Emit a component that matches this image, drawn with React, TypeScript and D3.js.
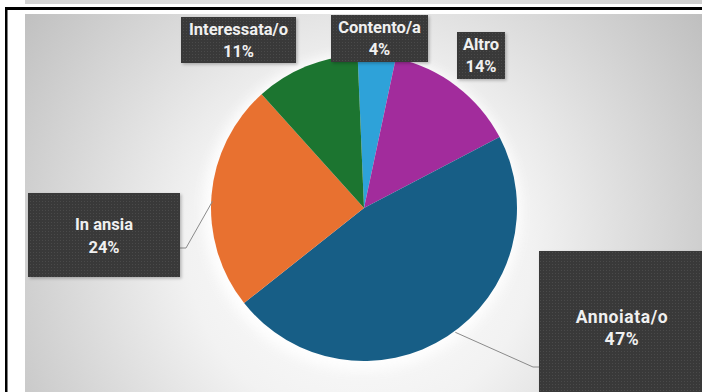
import React from "react";
import * as d3 from "d3";

const categories = ["Contento/a", "Altro", "Annoiata/o", "In ansia", "Interessata/o"];
const values = [4, 14, 47, 24, 11];
const percentLabels = ["4%", "14%", "47%", "24%", "11%"];
const colors = ["#2ea2d9", "#a22c9c", "#175e86", "#e87130", "#1c7530"];

const W = 702;
const H = 392;
const cx = 364;
const cy = 208;
const R = 153;

// label box layout (by category index)
const boxes = [
  { x: 331, y: 15, w: 97, h: 47, t1: 29, t2: 51, fs: 16.5, ls: 0 },
  { x: 457, y: 32, w: 48, h: 47, t1: 46, t2: 68, fs: 16.5, ls: 0 },
  { x: 539, y: 251, w: 170, h: 150, t1: 318, t2: 340, fs: 17.5, ls: 0.6 },
  { x: 28, y: 193, w: 152, h: 84, t1: 226, t2: 249, fs: 16.5, ls: 0 },
  { x: 181, y: 17, w: 115, h: 46, t1: 31, t2: 53, fs: 16.5, ls: 0 },
];

export default function App() {
  const pie = d3
    .pie<number>()
    .sort(null)
    .value((d) => d)
    .startAngle((-2.4 * Math.PI) / 180)
    .endAngle(((360 - 2.4) * Math.PI) / 180);
  const arcs = pie(values);
  const arcGen = d3.arc<d3.PieArcDatum<number>>().innerRadius(0).outerRadius(R);

  const edgePoint = (a: d3.PieArcDatum<number>) => {
    const m = (a.startAngle + a.endAngle) / 2;
    return [cx + R * Math.sin(m), cy - R * Math.cos(m)];
  };

  const pAnn = edgePoint(arcs[2]);
  const pAns = edgePoint(arcs[3]);

  return (
    <svg
      width={W}
      height={H}
      style={{ position: "absolute", left: 0, top: 0, background: "#fff" }}
      fontFamily="Roboto, 'Open Sans', sans-serif"
    >
      <defs>
        <radialGradient id="bg" cx={360} cy={250} r={430} gradientUnits="userSpaceOnUse">
          <stop offset="0" stopColor="#ffffff" />
          <stop offset="0.4" stopColor="#f2f2f2" />
          <stop offset="1" stopColor="#bcbcbc" />
        </radialGradient>
        <linearGradient id="strip" x1="0" x2="1">
          <stop offset="0" stopColor="#d4d4d4" />
          <stop offset="0.5" stopColor="#e6e6e6" />
          <stop offset="1" stopColor="#cfcfcf" />
        </linearGradient>
        <pattern id="dots" width="3" height="3" patternUnits="userSpaceOnUse">
          <rect width="3" height="3" fill="#393939" />
          <rect width="1" height="1" fill="#4a4a4a" />
        </pattern>
        <filter id="glow" x="-20%" y="-20%" width="140%" height="140%">
          <feGaussianBlur stdDeviation="6" />
        </filter>
        <filter id="shadow" x="-10%" y="-10%" width="130%" height="130%">
          <feGaussianBlur stdDeviation="1.5" />
        </filter>
      </defs>

      {/* top strip */}
      <rect x={25} y={0} width={W - 25} height={4} fill="url(#strip)" />
      <rect x={5} y={7} width={W - 5} height={3} fill="#000" />
      <rect x={5} y={7} width={2.5} height={H - 7} fill="#000" />

      {/* plot area */}
      <rect x={25} y={14} width={W - 25} height={H - 14} fill="url(#bg)" />

      {/* pie glow */}
      <circle cx={cx - 2} cy={cy + 4} r={R + 6} fill="#ffffff" opacity={0.9} filter="url(#glow)" />

      <g transform={`translate(${cx},${cy})`}>
        {arcs.map((a, i) => (
          <path key={categories[i]} d={arcGen(a) || ""} fill={colors[i]} />
        ))}
      </g>

      {/* leader lines */}
      <polyline
        points={`${pAnn[0] + 8},${pAnn[1] - 4} 533,367 539,367`}
        fill="none"
        stroke="#8a8a8a"
        strokeWidth={1}
      />
      <polyline
        points={`${pAns[0] + 1},${pAns[1] + 6} 186,248 180,248`}
        fill="none"
        stroke="#8a8a8a"
        strokeWidth={1}
      />

      {/* labels */}
      {boxes.map((b, i) => (
        <g key={categories[i]}>
          <rect x={b.x + 1.5} y={b.y + 1.5} width={b.w} height={b.h} fill="#000" opacity={0.25} filter="url(#shadow)" />
          <rect x={b.x} y={b.y} width={b.w} height={b.h} fill="url(#dots)" />
          <text
            x={i === 2 ? 622 : b.x + b.w / 2}
            y={b.t1}
            textAnchor="middle"
            dominantBaseline="middle"
            fill="#f0f0f0"
            fontWeight={700}
            fontSize={b.fs}
            letterSpacing={b.ls}
          >
            {categories[i]}
          </text>
          <text
            x={i === 2 ? 622 : b.x + b.w / 2}
            y={b.t2}
            textAnchor="middle"
            dominantBaseline="middle"
            fill="#f0f0f0"
            fontWeight={700}
            fontSize={b.fs}
            letterSpacing={b.ls}
          >
            {percentLabels[i]}
          </text>
        </g>
      ))}
    </svg>
  );
}
